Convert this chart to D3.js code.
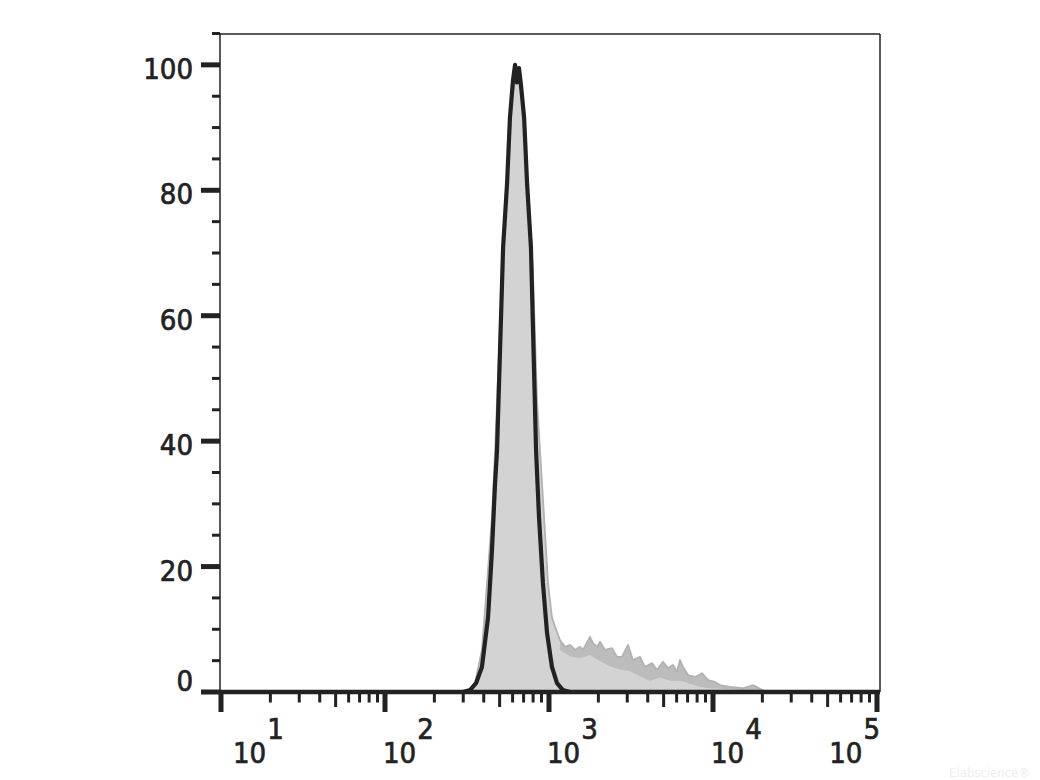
<!DOCTYPE html>
<html>
<head>
<meta charset="utf-8">
<script src="https://cdn.jsdelivr.net/npm/d3@7"></script>
<style>
  html, body { margin: 0; padding: 0; background: #fff; }
  svg { display: block; }
  text { font-family: 'DejaVu Sans Condensed', 'DejaVu Sans', sans-serif; font-stretch: condensed; fill: #222; }
  text.lbl { stroke: #222; stroke-width: 0.7px; }
</style>
</head>
<body>
<svg id="chart" width="1040" height="780"></svg>
<script>
// ---------- data (fluorescence intensity vs % of max) ----------
// isotype / unstained control (black outline)
const controlIntensity = [299, 330, 359, 390, 425, 449, 469, 482, 525, 555, 578, 603, 621, 638, 656, 675, 705, 735, 776, 834, 869, 918, 973, 1042, 1119, 1216, 1343];
const controlPercent   = [0, 0.3, 1.4, 4.0, 11.9, 22.6, 33.3, 38.5, 70.9, 81.1, 91.6, 97.5, 100, 97.2, 99.5, 96.7, 91.6, 81.1, 70.9, 38.5, 27.9, 17.4, 9.4, 4.0, 1.4, 0.3, 0];

// stained sample (gray filled)
const sampleIntensity = [321, 339, 354, 390, 419, 449, 469, 510, 547, 578, 612, 638, 665, 705, 745, 798, 845, 881, 933, 986, 1042, 1089, 1167,
  1253, 1343, 1442, 1545, 1611, 1778, 1854, 1963, 2046, 2194, 2421, 2600, 2786, 3033, 3251, 3589, 3846, 4246, 4560, 4955, 5321, 5702, 6026, 6295, 6561, 7046, 7762, 8570, 9333, 10280, 11040, 12700, 15240, 17540, 19360, 21330];
const samplePercent   = [0, 0.3, 1.4, 6.7, 17.4, 27.9, 38.5, 62.4, 79.9, 91.1, 96.7, 98.2, 97.5, 91.1, 79.9, 67.2, 46.5, 38.5, 27.9, 17.4, 11.9, 10.4, 8.3,
  7.2, 7.5, 6.7, 7.2, 6.7, 8.8, 7.8, 7.2, 8.0, 6.7, 7.0, 5.6, 5.6, 7.5, 5.1, 5.6, 4.0, 4.6, 3.5, 4.8, 3.8, 4.3, 3.2, 5.1, 4.0, 2.7, 2.4, 3.0, 1.9, 1.6, 1.1, 0.8, 0.6, 1.1, 0.5, 0];

// lower edge of the darker noise band along the sample's tail
const bandIntensity = [1167, 1343, 1545, 1778, 2046, 2355, 2710, 3119, 3589, 4130, 4753, 5470, 6295, 7244, 8337, 9594, 11040, 15240, 21330];
const bandPercent   = [6.7, 5.7, 5.4, 5.9, 4.9, 4.1, 3.6, 3.3, 2.5, 1.8, 2.3, 1.8, 1.8, 1.3, 0.8, 0.6, 0.5, 0.3, 0];

const yTicksMajor = [0, 20, 40, 60, 80, 100];
const yTicksMinor = [5, 10, 15, 25, 30, 35, 45, 50, 55, 65, 70, 75, 85, 90, 95, 105];
const xDecades = [10, 100, 1000, 10000, 100000];
const xDecadeExponents = ["1", "2", "3", "4", "5"];
const watermark = "Elabscience\u00AE";

// ---------- layout ----------
const svg = d3.select("#chart");
const mLeft = 220, mRight = 880, mTop = 34, mBottom = 692;

const x = d3.scaleLog().domain([10, 100000]).range([221, 877]);
const y = d3.scaleLinear().domain([0, 105]).range([mBottom, 33.5]);

// ---------- sample (gray filled) ----------
const samplePts = sampleIntensity.map((v, i) => [x(v), y(samplePercent[i])]);
const area = d3.area().x(d => d[0]).y0(y(0)).y1(d => d[1]);
svg.append("path").attr("d", area(samplePts)).attr("fill", "#d3d3d3");

// darker noise band on the tail
const tailUpper = sampleIntensity.map((v, i) => [v, samplePercent[i]]).filter(d => d[0] >= 1167).map(d => [x(d[0]), y(d[1])]);
const tailLower = bandIntensity.map((v, i) => [x(v), y(bandPercent[i])]).reverse();
svg.append("path")
  .attr("d", d3.line()(tailUpper.concat(tailLower)) + "Z")
  .attr("fill", "#bcbcbc");

svg.append("path")
  .attr("d", d3.line()(samplePts))
  .attr("fill", "none").attr("stroke", "#b2b2b2").attr("stroke-width", 1.8).attr("stroke-linejoin", "round");

// ---------- control (black line) ----------
const controlPts = controlIntensity.map((v, i) => [x(v), y(controlPercent[i])]);
svg.append("path")
  .attr("d", d3.line().curve(d3.curveLinear)(controlPts))
  .attr("fill", "none").attr("stroke", "#222").attr("stroke-width", 4.2).attr("stroke-linejoin", "round");

// ---------- frame ----------
svg.append("line").attr("x1", mLeft).attr("x2", mRight).attr("y1", mTop).attr("y2", mTop).attr("stroke", "#222").attr("stroke-width", 1.5);
svg.append("line").attr("x1", mRight).attr("x2", mRight).attr("y1", mTop).attr("y2", mBottom).attr("stroke", "#222").attr("stroke-width", 1.5);
svg.append("line").attr("x1", mLeft).attr("x2", mLeft).attr("y1", mTop).attr("y2", mBottom).attr("stroke", "#222").attr("stroke-width", 1.5);
svg.append("line").attr("x1", mLeft).attr("x2", mRight).attr("y1", mBottom).attr("y2", mBottom).attr("stroke", "#222").attr("stroke-width", 4.5);

// ---------- y axis ----------
const gy = svg.append("g");
gy.selectAll("line.maj").data(yTicksMajor).join("line")
  .attr("class", "maj")
  .attr("x1", 201).attr("x2", mLeft).attr("y1", d => y(d)).attr("y2", d => y(d))
  .attr("stroke", "#222").attr("stroke-width", 5);
gy.selectAll("line.min").data(yTicksMinor).join("line")
  .attr("class", "min")
  .attr("x1", 212).attr("x2", mLeft).attr("y1", d => y(d)).attr("y2", d => y(d))
  .attr("stroke", "#222").attr("stroke-width", 3);
gy.selectAll("text").data(yTicksMajor).join("text")
  .attr("class", "lbl")
  .attr("x", 193)
  .attr("y", d => y(d) + (d === 0 ? -11 : 4))
  .attr("text-anchor", "end").attr("dominant-baseline", "central")
  .attr("font-size", 29)
  .text(d => d);

// ---------- x axis ----------
const gx = svg.append("g");
const minorX = [];
for (let i = 0; i < xDecades.length - 1; i++) {
  for (let m = 2; m <= 9; m++) minorX.push({ v: xDecades[i] * m, m });
}
gx.selectAll("line.min").data(minorX).join("line")
  .attr("class", "min")
  .attr("x1", d => x(d.v)).attr("x2", d => x(d.v))
  .attr("y1", mBottom).attr("y2", d => d.m === 5 ? 707 : 702.5)
  .attr("stroke", "#222").attr("stroke-width", 3);
gx.selectAll("line.maj").data(xDecades).join("line")
  .attr("class", "maj")
  .attr("x1", d => x(d)).attr("x2", d => x(d))
  .attr("y1", mBottom).attr("y2", 712)
  .attr("stroke", "#222").attr("stroke-width", 5);

xDecades.forEach((d, i) => {
  const t = gx.append("text").attr("class", "lbl").attr("font-size", 29).attr("y", 763);
  t.append("tspan").text("10");
  t.append("tspan").attr("dy", -24).attr("dx", 1).text(xDecadeExponents[i]);
  const w = t.node().getComputedTextLength();
  let sx = x(d) - 2;
  if (i === 0) sx = x(d) + 12;
  if (i === xDecades.length - 1) sx = mRight - w - 1;
  t.attr("x", sx);
});

// watermark (faint)
svg.append("text").attr("x", 1030).attr("y", 777).attr("font-size", 13)
  .attr("text-anchor", "end")
  .style("fill", "#ededed").text(watermark);
</script>
</body>
</html>
